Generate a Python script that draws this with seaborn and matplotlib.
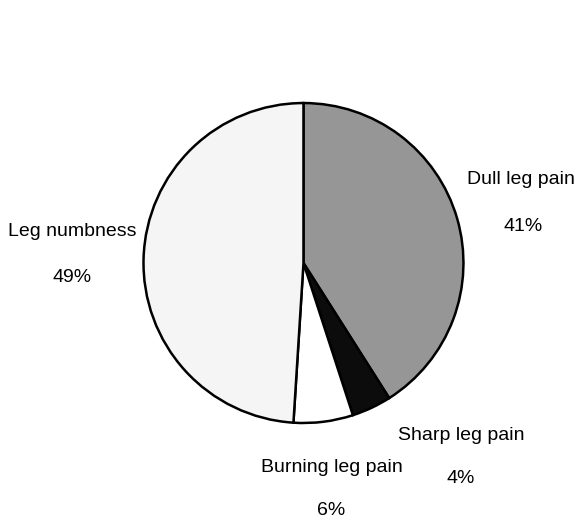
import matplotlib
matplotlib.use("Agg")
import matplotlib.pyplot as plt
import seaborn as sns

# Datos del gráfico
categorias = ["Dull leg pain", "Sharp leg pain", "Burning leg pain", "Leg numbness"]
porcentajes = [41, 4, 6, 49]
colores = ["#969696", "#0c0c0c", "#ffffff", "#f5f5f5"]

# posiciones (nombre, porcentaje) en unidades del radio
pos_nombre = [(1.359, 0.525), (0.984, -1.081), (0.178, -1.281), (-1.447, 0.194)]
pos_pct = [(1.372, 0.231), (0.984, -1.344), (0.172, -1.544), (-1.447, -0.088)]

sns.set_theme(style="white")
plt.rcParams["font.family"] = ["Liberation Sans", "DejaVu Sans"]

fig = plt.figure(figsize=(5.78, 5.19), dpi=100)
ax = fig.add_axes([0, 0, 1, 1])

ax.pie(porcentajes, colors=colores, startangle=90, counterclock=False,
       radius=1.0, wedgeprops=dict(edgecolor="black", linewidth=1.8))

for nombre, pct, pn, pp in zip(categorias, porcentajes, pos_nombre, pos_pct):
    ax.text(pn[0], pn[1], nombre, ha="center", va="center", fontsize=14, color="black")
    ax.text(pp[0], pp[1], f"{pct}%", ha="center", va="center", fontsize=14, color="black")

ax.set_xlim(-1.897, 1.716)
ax.set_ylim(-1.6, 1.644)
ax.set_aspect("equal")
ax.axis("off")

fig.savefig("out.png", dpi=100, facecolor="white")
